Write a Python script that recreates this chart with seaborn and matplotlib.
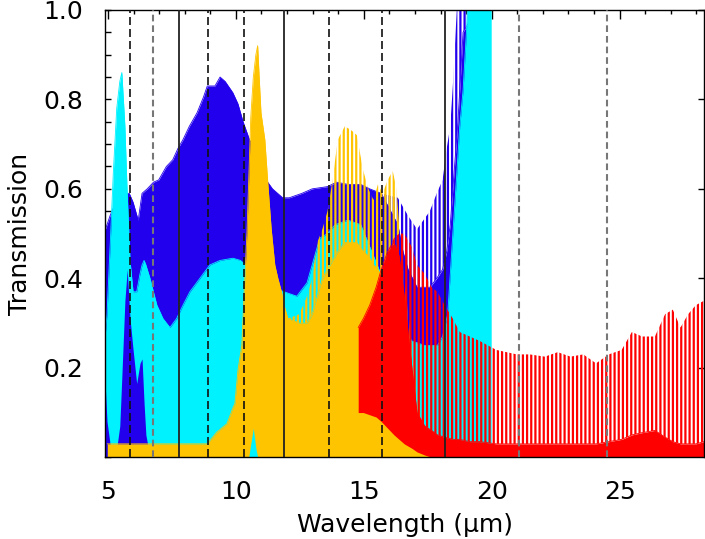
import numpy as np
import matplotlib
matplotlib.use('Agg')
import matplotlib.pyplot as plt
from matplotlib.ticker import MultipleLocator
import seaborn as sns


# %% spectra: wavelength (um), lower edge, top of solid part, fringe tips

blue_wl = [4.9, 5.08, 5.23, 5.38, 5.58, 5.83, 5.98, 6.18, 6.33, 6.53, 6.78, 6.98, 7.28, 7.53,
           7.73, 7.93, 8.18, 8.48, 8.73, 8.88, 9.18, 9.38, 9.58, 9.88, 10.08, 10.28, 10.53,
           10.88, 11.18, 11.43, 11.83, 12.08, 12.58, 12.98, 13.58, 13.93, 14.38, 14.88, 15.23,
           15.68, 16.33, 16.53, 16.73, 17.08, 17.33, 17.58, 17.85, 18.08, 18.24, 18.38, 18.48,
           18.68, 18.88, 19.9]
blue_tip = [0.51, 0.54, 0.56, 0.58, 0.59, 0.59, 0.57, 0.53, 0.59, 0.60, 0.615, 0.62, 0.65, 0.665,
            0.69, 0.71, 0.74, 0.77, 0.805, 0.83, 0.83, 0.85, 0.84, 0.815, 0.79, 0.75, 0.71,
            0.67, 0.62, 0.60, 0.58, 0.58, 0.59, 0.60, 0.605, 0.615, 0.61, 0.61, 0.60,
            0.59, 0.58, 0.56, 0.54, 0.51, 0.53, 0.55, 0.59, 0.62, 0.69, 0.74, 0.83,
            1.05, 1.05, 1.05]
blue_hi = [0.51, 0.54, 0.56, 0.58, 0.59, 0.59, 0.57, 0.53, 0.59, 0.60, 0.615, 0.62, 0.65, 0.665,
           0.69, 0.71, 0.74, 0.77, 0.805, 0.83, 0.83, 0.85, 0.84, 0.815, 0.79, 0.75, 0.71,
           0.67, 0.62, 0.60, 0.58, 0.58, 0.59, 0.60, 0.605, 0.615, 0.61, 0.61, 0.60,
           0.59, 0.52, 0.46, 0.42, 0.38, 0.38, 0.38, 0.40, 0.42, 0.46, 0.52, 0.60,
           0.75, 0.95, 1.05]
blue_lo = [0.0] * 54

cyan_wl = [4.9, 4.96, 5.08, 5.21, 5.34, 5.46, 5.54, 5.66, 5.75, 5.86, 5.98, 6.12, 6.25, 6.33,
           6.41, 6.48, 6.64, 6.91, 7.15, 7.42, 7.68, 7.93, 8.2, 8.59, 8.98, 9.38, 9.88, 10.18,
           10.38, 10.88, 11.38, 11.88, 12.38, 12.78, 12.98, 13.28, 13.58, 13.88, 14.38, 14.88,
           15.38, 15.88, 16.38, 16.88, 17.38, 17.88, 18.08, 18.28, 18.48, 18.63, 18.75, 18.88,
           19.01, 19.08, 19.98]
cyan_tip = [0.28, 0.32, 0.47, 0.64, 0.78, 0.84, 0.86, 0.74, 0.59, 0.44, 0.37, 0.37, 0.41, 0.43,
            0.44, 0.43, 0.40, 0.34, 0.31, 0.29, 0.31, 0.34, 0.37, 0.40, 0.43, 0.44, 0.445, 0.44,
            0.43, 0.40, 0.38, 0.37, 0.36, 0.39, 0.43, 0.49, 0.50, 0.52, 0.53, 0.52,
            0.45, 0.38, 0.30, 0.26, 0.25, 0.25, 0.27, 0.32, 0.50, 0.63, 0.74, 0.82,
            0.95, 1.05, 1.05]
cyan_lo = ([0.15, 0.08, 0.03, 0.02, 0.02, 0.07, 0.18, 0.35, 0.42, 0.31, 0.24, 0.165, 0.21, 0.22,
            0.12, 0.05, 0.0] + [0.0] * 38)

yellow_wl = [4.97, 8.88, 9.25, 9.65, 9.88, 9.96, 10.08, 10.23, 10.33, 10.43, 10.5, 10.58, 10.68,
             10.78, 10.85, 10.9, 10.98, 11.13, 11.25, 11.38, 11.52, 11.64, 11.78, 11.88, 12.03,
             12.48, 12.78, 12.98, 13.18, 13.38, 13.58, 13.78, 13.98, 14.26, 14.53, 14.73, 14.85,
             14.98, 15.18, 15.38, 15.55, 15.74, 15.93, 16.13, 16.28, 16.38, 16.68, 17.08, 17.48,
             17.88]
yellow_tip = [0.03, 0.03, 0.056, 0.075, 0.11, 0.12, 0.195, 0.25, 0.38, 0.50, 0.62, 0.76, 0.85,
              0.90, 0.92, 0.86, 0.77, 0.71, 0.61, 0.51, 0.43, 0.40, 0.37, 0.34, 0.31,
              0.32, 0.36, 0.40, 0.48, 0.51, 0.55, 0.62, 0.71, 0.74, 0.73, 0.72, 0.68,
              0.64, 0.60, 0.575, 0.61, 0.59, 0.62, 0.64, 0.60, 0.52, 0.35, 0.15, 0.05, 0.01]
yellow_hi = [0.03, 0.03, 0.056, 0.075, 0.11, 0.12, 0.195, 0.25, 0.38, 0.50, 0.62, 0.76, 0.85,
             0.90, 0.92, 0.86, 0.77, 0.71, 0.61, 0.51, 0.43, 0.40, 0.37, 0.34, 0.31,
             0.30, 0.30, 0.32, 0.36, 0.40, 0.42, 0.44, 0.46, 0.48, 0.48, 0.48, 0.47,
             0.46, 0.45, 0.43, 0.42, 0.40, 0.38, 0.34, 0.30, 0.26, 0.15, 0.08, 0.03, 0.01]
yellow_lo = ([0.0] * 11 + [0.03, 0.065, 0.02, 0.0] + [0.0] * 35)

red_wl = [14.78, 14.98, 15.23, 15.48, 15.68, 15.93, 16.18, 16.38, 16.58, 16.88, 17.08, 17.38,
          17.65, 17.88, 18.16, 18.48, 18.75, 19.14, 19.53, 20.18, 20.98, 21.48, 22.08, 22.58,
          23.08, 23.58, 24.08, 24.58, 25.08, 25.48, 25.88, 26.38, 26.78, 27.08, 27.38, 27.68,
          27.98, 28.3]
red_tip = [0.29, 0.31, 0.34, 0.38, 0.42, 0.46, 0.49, 0.50, 0.50, 0.47, 0.43, 0.41,
           0.38, 0.37, 0.34, 0.31, 0.28, 0.27, 0.26, 0.24, 0.23, 0.23, 0.225, 0.235,
           0.225, 0.23, 0.21, 0.23, 0.24, 0.28, 0.27, 0.27, 0.32, 0.33, 0.29, 0.32,
           0.34, 0.35]
red_hi = [0.29, 0.31, 0.34, 0.38, 0.42, 0.46, 0.48, 0.45, 0.36, 0.20, 0.10, 0.07,
          0.06, 0.05, 0.045, 0.04, 0.04, 0.035, 0.035, 0.03, 0.03, 0.03, 0.03, 0.03,
          0.03, 0.03, 0.03, 0.035, 0.04, 0.05, 0.055, 0.06, 0.045, 0.035, 0.03, 0.03,
          0.03, 0.035]
red_lo = ([0.10, 0.10, 0.095, 0.09, 0.08, 0.065, 0.05, 0.04, 0.03, 0.02, 0.012, 0.005]
          + [0.0] * 26)

# band boundaries
edges_solid = [7.77, 11.875, 18.19]
edges_dashed = [5.86, 8.92, 10.30, 13.62, 15.71]
edges_grey = [6.75, 21.05, 24.52]

x_ticks = [5, 10, 15, 20, 25]
y_ticks = [0.2, 0.4, 0.6, 0.8, 1.0]
y_tick_labels = ['0.2', '0.4', '0.6', '0.8', '1.0']

# %%

sns.set_theme(style='ticks')
plt.rcParams['font.family'] = ['DejaVu Sans']
plt.rcParams['hatch.linewidth'] = 1.6
plt.rcParams['text.color'] = 'black'
plt.rcParams['axes.labelcolor'] = 'black'
plt.rcParams['xtick.color'] = 'black'
plt.rcParams['ytick.color'] = 'black'

fig = plt.figure(figsize=(7.05, 5.39), dpi=100)
ax = fig.add_axes([0.1496, 0.1516, 0.849, 0.830])


def draw_band(wl, lo, hi, tip, color, z):
    wl, lo, hi, tip = map(np.asarray, (wl, lo, hi, tip))
    ax.fill_between(wl, lo, hi, color=color, lw=0, zorder=z)
    # fringe region: vertical hatching between solid part and fringe tips
    ax.fill_between(wl, hi, tip, facecolor='none', edgecolor=color, hatch='||||',
                    lw=0, zorder=z)
    sns.lineplot(x=wl, y=hi, color=color, lw=0.6, ax=ax, zorder=z,
                 sort=False, estimator=None)


draw_band(blue_wl, blue_lo, blue_hi, blue_tip, '#2200EE', 1.0)
draw_band(cyan_wl, cyan_lo, cyan_tip, cyan_tip, '#00F2FF', 1.2)
draw_band(yellow_wl, yellow_lo, yellow_hi, yellow_tip, '#FFC400', 1.4)
draw_band(red_wl, red_lo, red_hi, red_tip, '#FF0000', 1.6)

for x in edges_solid:
    ax.axvline(x, color='#222222', lw=1.3, zorder=3)
for x in edges_dashed:
    ax.axvline(x, color='#111111', lw=1.2, dashes=(4.8, 2.4), zorder=3)
for x in edges_grey:
    ax.axvline(x, color='#777777', lw=1.5, dashes=(3.2, 1.9), zorder=3)

ax.set_xlim(4.9, 28.3)
ax.set_ylim(0, 1.0)
ax.set_xticks(x_ticks)
ax.set_yticks(y_ticks, labels=y_tick_labels)
ax.xaxis.set_minor_locator(MultipleLocator(1))
ax.yaxis.set_minor_locator(MultipleLocator(0.05))
ax.set_axisbelow(True)

ax.tick_params(axis='both', which='both', direction='in', top=True, right=True,
               labelsize=18, pad=16, color='black', labelcolor='black')
ax.tick_params(axis='x', which='major', length=6.5, width=1)
ax.tick_params(axis='x', which='minor', length=3.2, width=1)
ax.tick_params(axis='y', which='major', length=4.5, width=1)
ax.tick_params(axis='y', which='minor', length=4.5, width=1, right=False)

for s in ax.spines.values():
    s.set_color('black')
    s.set_linewidth(1.0)

ax.set_xlabel('Wavelength (μm)', fontsize=18, labelpad=7, color='black')
ax.set_ylabel('Transmission', fontsize=18, labelpad=8, color='black')

fig.savefig('out.png', dpi=100)
